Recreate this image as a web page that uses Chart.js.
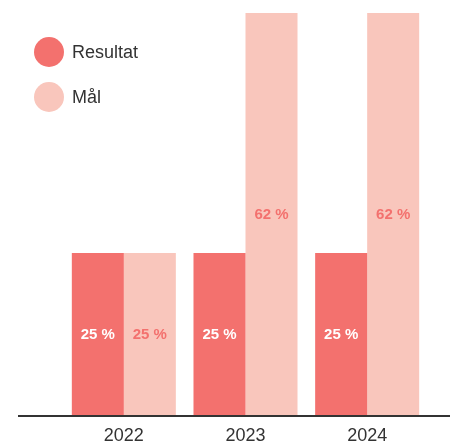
<!DOCTYPE html>
<html>
<head>
<meta charset="utf-8">
<script src="https://cdn.jsdelivr.net/npm/chart.js@4/dist/chart.umd.min.js"></script>
<style>
  html, body { margin: 0; padding: 0; background: #fff; }
  #wrap { position: relative; width: 450px; height: 443px; }
  #legend { position: absolute; left: 34px; top: 37px; font-family: "Liberation Sans", Arial, sans-serif; font-size: 18px; color: #333; }
  #legend div { display: flex; align-items: center; height: 30px; margin-bottom: 15px; }
  #legend span.dot { width: 30px; height: 30px; border-radius: 50%; margin-right: 8px; display: inline-block; }
</style>
</head>
<body>
<div id="wrap">
  <canvas id="chart" width="450" height="443"></canvas>
  <div id="legend"></div>
</div>
<script>
const years = ['2022', '2023', '2024'];
const resultat = [25, 25, 25];
const maal = [25, 62, 62];
const seriesNames = ['Resultat', 'Mål'];
const colors = ['#F3716E', '#F9C6BC'];
const labelColors = ['#FFFFFF', '#F3716E'];

// etiketter midt i stolpene
const barLabels = {
    id: 'barLabels',
    afterDatasetsDraw(chart) {
        const ctx = chart.ctx;
        ctx.save();
        ctx.font = 'bold 15px "Liberation Sans", Arial, sans-serif';
        ctx.textAlign = 'center';
        ctx.textBaseline = 'middle';
        chart.data.datasets.forEach((ds, i) => {
            chart.getDatasetMeta(i).data.forEach((bar, j) => {
                ctx.fillStyle = labelColors[i];
                ctx.fillText(`${ds.data[j]} %`, bar.x, (bar.y + bar.base) / 2 + 1);
            });
        });
        ctx.restore();
    },
};

// grunnlinje over hele bredden
const baseLine = {
    id: 'baseLine',
    afterDraw(chart) {
        const ctx = chart.ctx;
        const y = chart.scales.y.getPixelForValue(0);
        ctx.save();
        ctx.strokeStyle = '#333';
        ctx.lineWidth = 2;
        ctx.beginPath();
        ctx.moveTo(18, y + 1);
        ctx.lineTo(450, y + 1);
        ctx.stroke();
        ctx.restore();
    },
};

new Chart(document.getElementById('chart').getContext('2d'), {
    type: 'bar',
    data: {
        labels: years,
        datasets: [
            { label: seriesNames[0], data: resultat, backgroundColor: colors[0], borderWidth: 0 },
            { label: seriesNames[1], data: maal, backgroundColor: colors[1], borderWidth: 0 },
        ],
    },
    options: {
        responsive: false,
        animation: false,
        layout: { padding: { left: 63, right: 22, top: 13, bottom: 0 } },
        categoryPercentage: 0.855,
        barPercentage: 1,
        plugins: {
            legend: { display: false },
            tooltip: { enabled: false },
        },
        scales: {
            x: {
                grid: { display: false, drawTicks: false },
                border: { display: false },
                afterFit(scale) {
                    scale.height = 28;
                },
                ticks: {
                    color: '#333',
                    padding: 10,
                    font: { family: '"Liberation Sans", Arial, sans-serif', size: 18 },
                },
            },
            y: {
                display: false,
                min: 0,
                max: 62,
            },
        },
    },
    plugins: [barLabels, baseLine],
});

const legend = document.getElementById('legend');
seriesNames.forEach((name, i) => {
    const row = document.createElement('div');
    const dot = document.createElement('span');
    dot.className = 'dot';
    dot.style.background = colors[i];
    row.appendChild(dot);
    row.appendChild(document.createTextNode(name));
    legend.appendChild(row);
});
</script>
</body>
</html>
